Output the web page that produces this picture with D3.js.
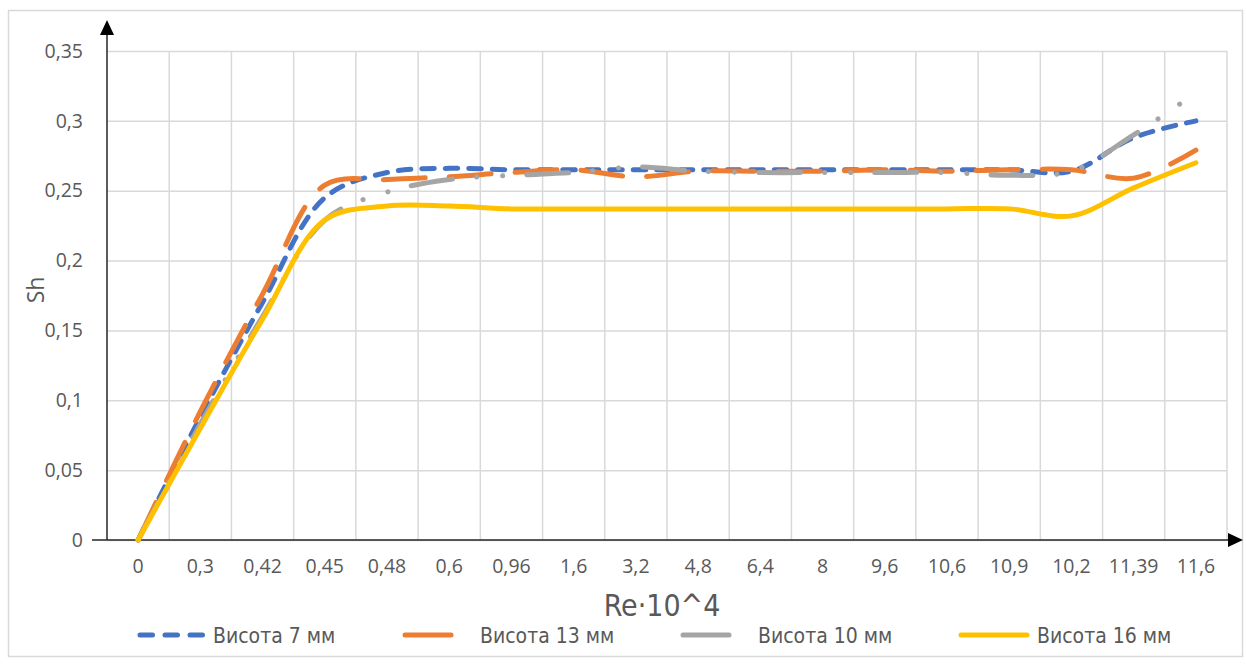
<!DOCTYPE html>
<html>
<head>
<meta charset="utf-8">
<script src="https://cdn.jsdelivr.net/npm/d3@7"></script>
<style>
  body { margin: 0; background: #fff; }
  svg { display: block; }
  .narrow { font-family: "DejaVu Sans Condensed", "DejaVu Sans", sans-serif; font-stretch: condensed; }
</style>
</head>
<body>
<svg width="1246" height="666"></svg>
<script>
// categories (Re·10^4) as printed under the axis
var categories = ["0", "0,3", "0,42", "0,45", "0,48", "0,6", "0,96", "1,6", "3,2", "4,8",
                  "6,4", "8", "9,6", "10,6", "10,9", "10,2", "11,39", "11,6"];

// Sh values
var h7  = [0, 0.088, 0.170, 0.245, 0.263, 0.266, 0.265, 0.265, 0.265, 0.265,
           0.265, 0.265, 0.265, 0.265, 0.265, 0.264, 0.288, 0.300];
var h13 = [0, 0.092, 0.176, 0.254, 0.258, 0.260, 0.263, 0.265, 0.260, 0.264,
           0.264, 0.264, 0.265, 0.264, 0.265, 0.265, 0.259, 0.279];
var h10 = [0, 0.083, 0.160, 0.229, 0.249, 0.258, 0.261, 0.263, 0.267, 0.264,
           0.263, 0.263, 0.263, 0.263, 0.261, 0.264, 0.290, 0.320];
var h16 = [0, 0.080, 0.158, 0.229, 0.239, 0.239, 0.237, 0.237, 0.237, 0.237,
           0.237, 0.237, 0.237, 0.237, 0.237, 0.232, 0.252, 0.270];

var seriesNames = ["Висота 7 мм", "Висота 13 мм", "Висота 10 мм", "Висота 16 мм"];
var yTicks = [0, 0.05, 0.1, 0.15, 0.2, 0.25, 0.3, 0.35];

var svg = d3.select("svg"),
    pl = 107, pr = 1227, pt = 51, pb = 540;

var x = d3.scaleBand().domain(categories).range([pl, pr]),
    y = d3.scaleLinear().domain([0, 0.35]).range([pb, pt]);

var fmt = function(d) { return String(+d.toFixed(2)).replace(".", ","); };

// outer frame
svg.append("rect")
    .attr("x", 8.5).attr("y", 10.5).attr("width", 1234).attr("height", 646)
    .attr("fill", "#fff").attr("stroke", "#d9d9d9").attr("stroke-width", 1.5);

// horizontal gridlines + y labels
var gy = svg.append("g")
    .attr("transform", "translate(" + pl + ",0)")
    .call(d3.axisLeft(y).tickValues(yTicks).tickFormat(fmt)
          .tickSize(-(pr - pl)).tickPadding(24));
gy.select(".domain").remove();
gy.selectAll(".tick line").attr("stroke", "#d9d9d9").attr("stroke-width", 1.5);
gy.selectAll(".tick text")
    .attr("fill", "#595959").attr("font-family", "Open Sans, sans-serif")
    .attr("font-size", 19.5);

// vertical gridlines on band edges
svg.append("g").selectAll("line")
    .data(categories)
    .enter().append("line")
      .attr("x1", function(d) { return x(d) + x.step(); })
      .attr("x2", function(d) { return x(d) + x.step(); })
      .attr("y1", pt).attr("y2", pb)
      .attr("stroke", "#d9d9d9").attr("stroke-width", 1.5);

// x labels
var gx = svg.append("g")
    .attr("transform", "translate(0," + pb + ")")
    .call(d3.axisBottom(x).tickSize(0).tickPadding(19));
gx.select(".domain").remove();
gx.selectAll(".tick text")
    .attr("fill", "#595959").attr("font-family", "Open Sans, sans-serif")
    .attr("font-size", 19.5);

// axes with arrows
svg.append("line")
    .attr("x1", 92).attr("x2", 1232).attr("y1", pb).attr("y2", pb)
    .attr("stroke", "#262626").attr("stroke-width", 1.5);
svg.append("path")
    .attr("d", "M1243," + pb + "L1228," + (pb - 7) + "L1228," + (pb + 7) + "Z")
    .attr("fill", "#000");
svg.append("line")
    .attr("x1", pl).attr("x2", pl).attr("y1", pb).attr("y2", 30)
    .attr("stroke", "#262626").attr("stroke-width", 1.5);
svg.append("path")
    .attr("d", "M" + pl + ",20L" + (pl - 7) + ",35L" + (pl + 7) + ",35Z")
    .attr("fill", "#000");

// axis titles
svg.append("text")
    .attr("transform", "translate(44,290) rotate(-90)")
    .attr("text-anchor", "middle")
    .attr("fill", "#595959").attr("font-family", "Open Sans, sans-serif")
    .attr("font-size", 23).text("Sh");
svg.append("text")
    .attr("class", "narrow")
    .attr("x", 662).attr("y", 616)
    .attr("text-anchor", "middle")
    .attr("fill", "#595959")
    .attr("font-size", 30).text("Re·10^4");

// series
var series = [
  {name: seriesNames[0], values: h7,  color: "#4472c4", dash: "12.5,11"},
  {name: seriesNames[1], values: h13, color: "#ed7d31", dash: "42,24"},
  {name: seriesNames[2], values: h10, color: "#a5a5a5", dash: "42,24,0.1,26,0.1,24"},
  {name: seriesNames[3], values: h16, color: "#ffc000", dash: null}
];

var line = d3.line()
    .x(function(d, i) { return x(categories[i]) + x.bandwidth() / 2; })
    .y(function(d) { return y(d); })
    .curve(d3.curveCatmullRom);

svg.append("g").selectAll("path")
    .data(series)
    .enter().append("path")
      .attr("d", function(d) { return line(d.values); })
      .attr("fill", "none")
      .attr("stroke", function(d) { return d.color; })
      .attr("stroke-width", 5)
      .attr("stroke-linecap", "round")
      .attr("stroke-dasharray", function(d) { return d.dash; });

// legend
var legendX = [140, 405, 683, 961],
    legendLen = [62.5, 46, 46, 66],
    textX = [213, 480, 758, 1037];

var lg = svg.append("g").selectAll("g")
    .data(series)
    .enter().append("g");
lg.append("line")
    .attr("x1", function(d, i) { return legendX[i]; })
    .attr("x2", function(d, i) { return legendX[i] + legendLen[i]; })
    .attr("y1", 635).attr("y2", 635)
    .attr("stroke", function(d) { return d.color; })
    .attr("stroke-width", 5)
    .attr("stroke-linecap", "round")
    .attr("stroke-dasharray", function(d, i) { return i === 0 ? "12.5,12.5" : null; });
lg.append("text")
    .attr("class", "narrow")
    .attr("x", function(d, i) { return textX[i]; })
    .attr("y", 643)
    .attr("fill", "#595959")
    .attr("font-size", 21)
    .text(function(d) { return d.name; });
</script>
</body>
</html>
